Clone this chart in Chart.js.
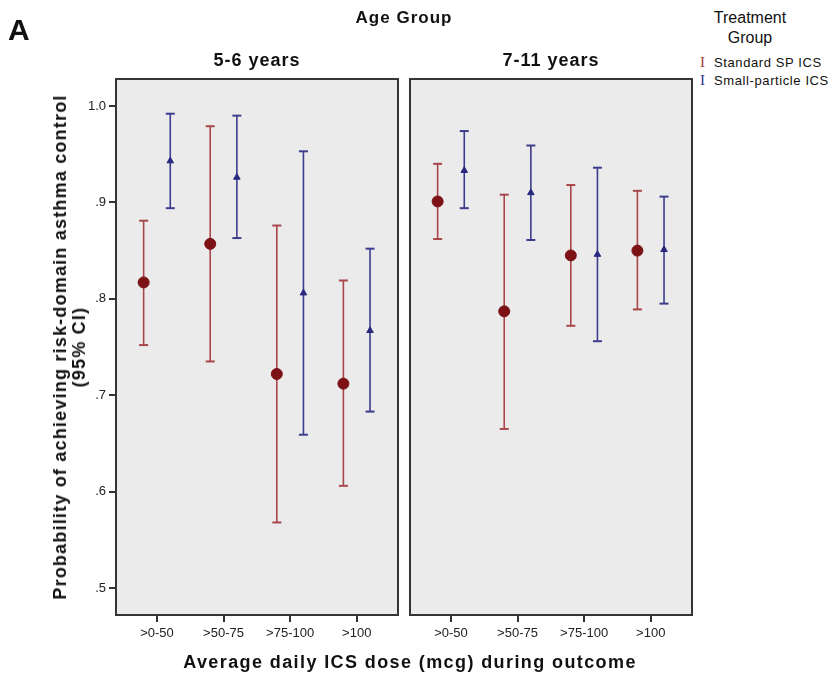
<!DOCTYPE html>
<html>
<head>
<meta charset="utf-8">
<script src="https://cdn.jsdelivr.net/npm/chart.js@4.4.1/dist/chart.umd.min.js"></script>
<style>
  body { margin: 0; background: #fff; font-family: "Liberation Sans", Arial, sans-serif; }
  #wrap { position: relative; width: 835px; height: 677px; overflow: hidden; }
  .txt { position: absolute; white-space: nowrap; color: #111; }
  .c { transform: translateX(-50%); text-align: center; }
  canvas { position: absolute; top: 0; }
</style>
</head>
<body>
<div id="wrap">
  <canvas id="young" width="400" height="677" style="left:0;width:400px;height:677px"></canvas>
  <canvas id="old" width="300" height="677" style="left:400px;width:300px;height:677px"></canvas>

  <div class="txt" style="left:8px;top:13px;font:bold 30px 'Liberation Sans',Arial">A</div>
  <div class="txt c" style="left:404px;top:8px;font:bold 17px 'Liberation Sans',Arial;letter-spacing:1px">Age Group</div>
  <div class="txt c" style="left:257px;top:50px;font:bold 18px 'Liberation Sans',Arial;letter-spacing:1px">5-6 years</div>
  <div class="txt c" style="left:551px;top:50px;font:bold 18px 'Liberation Sans',Arial;letter-spacing:1px">7-11 years</div>
  <div class="txt c" style="left:410px;top:652px;font:bold 18px 'Liberation Sans',Arial;letter-spacing:1.4px">Average daily ICS dose (mcg) during outcome</div>
  <div class="txt" style="left:70px;top:347px;transform:translate(-50%,-50%) rotate(-90deg);font:bold 18px 'Liberation Sans',Arial;letter-spacing:1.2px;text-align:center;line-height:19px">Probability of achieving risk-domain asthma control<br>(95% CI)</div>

  <div class="txt c" style="left:750px;top:8px;font:16px 'Liberation Sans',Arial;line-height:20px">Treatment<br>Group</div>
  <div class="txt" style="left:700px;top:54px;font:13px 'Liberation Sans',Arial;letter-spacing:0.6px;line-height:18px">
    <span style="font:15px 'Liberation Serif',serif;color:#a33a3e">I</span>&nbsp; Standard SP ICS<br>
    <span style="font:15px 'Liberation Serif',serif;color:#33338a">I</span>&nbsp; Small-particle ICS
  </div>
</div>
<script>
const doseLabels = [">0-50", ">50-75", ">75-100", ">100"];
const yTicks = [0.5, 0.6, 0.7, 0.8, 0.9, 1.0];

// 5-6 years
const stdMean56 = [0.817, 0.857, 0.722, 0.712];
const stdLow56 = [0.752, 0.735, 0.568, 0.606];
const stdHigh56 = [0.881, 0.979, 0.876, 0.819];
const spMean56 = [0.943, 0.926, 0.806, 0.767];
const spLow56 = [0.894, 0.863, 0.659, 0.683];
const spHigh56 = [0.992, 0.990, 0.953, 0.852];

// 7-11 years
const stdMean711 = [0.901, 0.787, 0.845, 0.850];
const stdLow711 = [0.862, 0.665, 0.772, 0.789];
const stdHigh711 = [0.940, 0.908, 0.918, 0.912];
const spMean711 = [0.933, 0.910, 0.846, 0.851];
const spLow711 = [0.894, 0.861, 0.756, 0.795];
const spHigh711 = [0.974, 0.959, 0.936, 0.906];

const RED_LINE = "#a8464b";
const RED_DOT = "#7c1216";
const BLUE_LINE = "#3d3d8e";
const BLUE_DOT = "#29297f";

function errorSets(mean, low, high, shift, lineColor, dotColor, style, radius) {
  const whisk = [];
  const caps = [];
  mean.forEach((m, i) => {
    whisk.push({ x: i + shift, y: low[i] }, { x: i + shift, y: high[i] }, { x: i + shift, y: null });
    caps.push({ x: i + shift, y: low[i] }, { x: i + shift, y: high[i] });
  });
  return {
    marks: {
      data: mean.map((m, i) => ({ x: i + shift, y: m })),
      pointStyle: style,
      pointRadius: radius,
      backgroundColor: dotColor,
      borderColor: dotColor,
      borderWidth: 1,
    },
    lines: [
      {
        data: whisk,
        showLine: true,
        spanGaps: false,
        borderColor: lineColor,
        borderWidth: 1.6,
        pointRadius: 0,
      },
      {
        data: caps,
        pointStyle: "line",
        pointRadius: 4.5,
        borderColor: lineColor,
        borderWidth: 2,
      },
    ],
  };
}

// grey panel with dark frame
const panelFrame = {
  id: "panelFrame",
  beforeDraw(chart) {
    const a = chart.chartArea;
    const ctx = chart.ctx;
    ctx.save();
    ctx.fillStyle = "#ebebeb";
    ctx.fillRect(a.left, a.top, a.right - a.left, a.bottom - a.top);
    ctx.restore();
  },
  afterDraw(chart) {
    const a = chart.chartArea;
    const ctx = chart.ctx;
    ctx.save();
    ctx.strokeStyle = "#353535";
    ctx.lineWidth = 2;
    ctx.strokeRect(a.left, a.top, a.right - a.left, a.bottom - a.top);
    ctx.restore();
  },
};

function makePanel(id, std, sp, showY, padding) {
  const red = errorSets(std[0], std[1], std[2], -0.2, RED_LINE, RED_DOT, "circle", 5.5);
  const blue = errorSets(sp[0], sp[1], sp[2], 0.2, BLUE_LINE, BLUE_DOT, "triangle", 3.8);
  new Chart(document.getElementById(id).getContext("2d"), {
    type: "scatter",
    data: { datasets: [red.marks, blue.marks, ...red.lines, ...blue.lines] },
    options: {
      responsive: false,
      animation: false,
      layout: { padding: padding, autoPadding: false },
      plugins: { legend: { display: false }, tooltip: { enabled: false } },
      scales: {
        x: {
          type: "linear",
          min: -0.615,
          max: 3.62,
          afterBuildTicks: (s) => { s.ticks = doseLabels.map((d, i) => ({ value: i })); },
          afterFit: (s) => { s.height = 40; },
          ticks: {
            callback: (v) => doseLabels[v],
            color: "#222",
            font: { family: "'Liberation Sans', Arial", size: 13 },
            maxRotation: 0,
            padding: 4,
          },
          grid: { drawOnChartArea: false, tickLength: 7, color: "#333", lineWidth: 2 },
          border: { color: "#353535", width: 2 },
        },
        y: {
          display: showY,
          min: 0.472,
          max: 1.028,
          afterBuildTicks: (s) => { s.ticks = yTicks.map((v) => ({ value: v })); },
          afterFit: (s) => { s.width = showY ? 116 : 0; },
          ticks: {
            callback: (v) => (v >= 1 ? "1.0" : "." + Math.round(v * 10)),
            color: "#222",
            font: { family: "'Liberation Sans', Arial", size: 13 },
            padding: 3,
          },
          grid: { drawOnChartArea: false, tickLength: 7, color: "#333", lineWidth: 2 },
          border: { color: "#353535", width: 2 },
        },
      },
    },
    plugins: [panelFrame],
  });
}

makePanel("young", [stdMean56, stdLow56, stdHigh56], [spMean56, spLow56, spHigh56], true,
  { left: 0, right: 2, top: 79, bottom: 22 });
makePanel("old", [stdMean711, stdLow711, stdHigh711], [spMean711, spLow711, spHigh711], false,
  { left: 10, right: 8, top: 79, bottom: 22 });
</script>
</body>
</html>
